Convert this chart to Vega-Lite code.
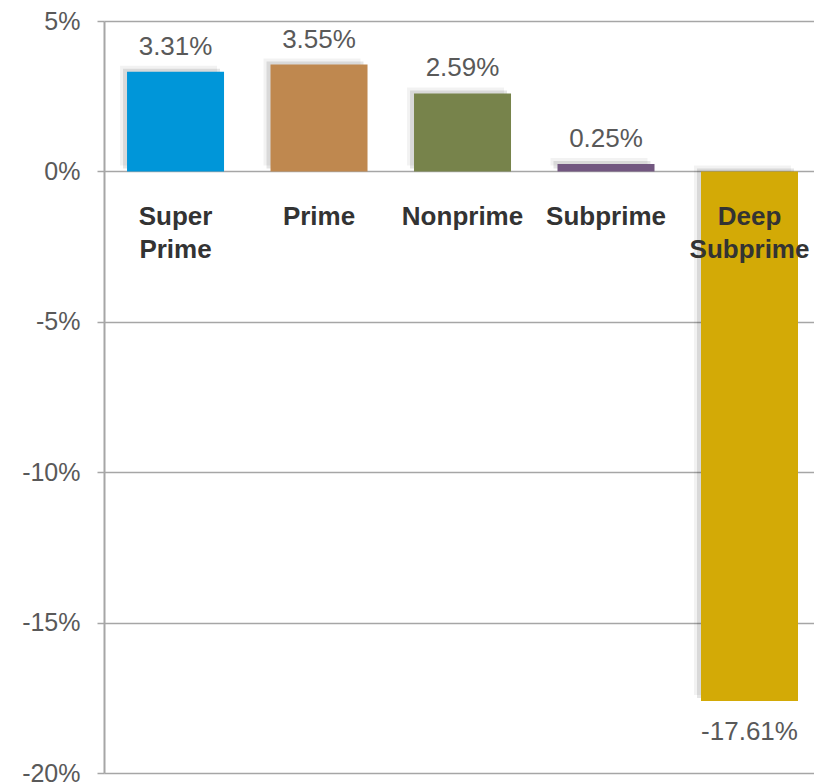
{
  "$schema": "https://vega.github.io/schema/vega-lite/v6.json",
  "width": 710,
  "height": 752,
  "autosize": {"type": "none"},
  "padding": {"left": 104, "top": 21, "right": 0, "bottom": 11},
  "config": {"view": {"stroke": null}, "font": "Liberation Sans"},
  "data": {
    "values": [
      {"category": "Super Prime", "label": "Super\nPrime", "value": 3.31, "text": "3.31%"},
      {"category": "Prime", "label": "Prime", "value": 3.55, "text": "3.55%"},
      {"category": "Nonprime", "label": "Nonprime", "value": 2.59, "text": "2.59%"},
      {"category": "Subprime", "label": "Subprime", "value": 0.25, "text": "0.25%"},
      {"category": "Deep Subprime", "label": "Deep\nSubprime", "value": -17.61, "text": "-17.61%"}
    ]
  },
  "encoding": {
    "x": {
      "field": "category",
      "type": "nominal",
      "sort": null,
      "scale": {"paddingInner": 0.324, "paddingOuter": 0.136, "align": 0.59},
      "axis": null
    }
  },
  "layer": [
    {
      "mark": {"type": "bar", "color": "#000000", "opacity": 0.05, "xOffset": -7, "yOffset": -6},
      "encoding": {
        "y": {
          "field": "value",
          "type": "quantitative",
          "scale": {"domain": [-20, 5], "nice": false, "zero": false},
          "axis": {
            "values": [-20, -15, -10, -5, 0, 5],
            "labelExpr": "datum.value + '%'",
            "title": null,
            "grid": true,
            "gridColor": "#A6A6A6",
            "gridWidth": 1.5,
            "domainColor": "#A6A6A6",
            "domainWidth": 2,
            "tickColor": "#A6A6A6",
            "tickSize": 7,
            "tickWidth": 1.5,
            "labelFontSize": 25,
            "labelColor": "#595959",
            "labelPadding": 17,
            "labelFont": "Liberation Sans"
          }
        }
      }
    },
    {
      "mark": {"type": "bar", "color": "#000000", "opacity": 0.1, "xOffset": -4, "yOffset": -3},
      "encoding": {
        "y": {"field": "value", "type": "quantitative"}
      }
    },
    {
      "mark": {"type": "bar"},
      "encoding": {
        "y": {"field": "value", "type": "quantitative"},
        "color": {
          "field": "category",
          "type": "nominal",
          "scale": {
            "domain": ["Super Prime", "Prime", "Nonprime", "Subprime", "Deep Subprime"],
            "range": ["#0096D9", "#BF884F", "#77834B", "#725780", "#D3AA06"]
          },
          "legend": null
        }
      }
    },
    {
      "transform": [{"filter": "datum.value >= 0"}],
      "mark": {"type": "text", "fontSize": 26, "color": "#595959", "baseline": "alphabetic", "dy": -17},
      "encoding": {
        "y": {"field": "value", "type": "quantitative"},
        "text": {"field": "text"}
      }
    },
    {
      "transform": [{"filter": "datum.value < 0"}],
      "mark": {"type": "text", "fontSize": 26, "color": "#595959", "baseline": "top", "dy": 18},
      "encoding": {
        "y": {"field": "value", "type": "quantitative"},
        "text": {"field": "text"}
      }
    },
    {
      "mark": {"type": "text", "fontSize": 26, "fontWeight": "bold", "color": "#333333", "baseline": "top", "dy": 33, "lineBreak": "\n", "lineHeight": 33},
      "encoding": {
        "y": {"datum": 0},
        "text": {"field": "label"}
      }
    }
  ]
}
